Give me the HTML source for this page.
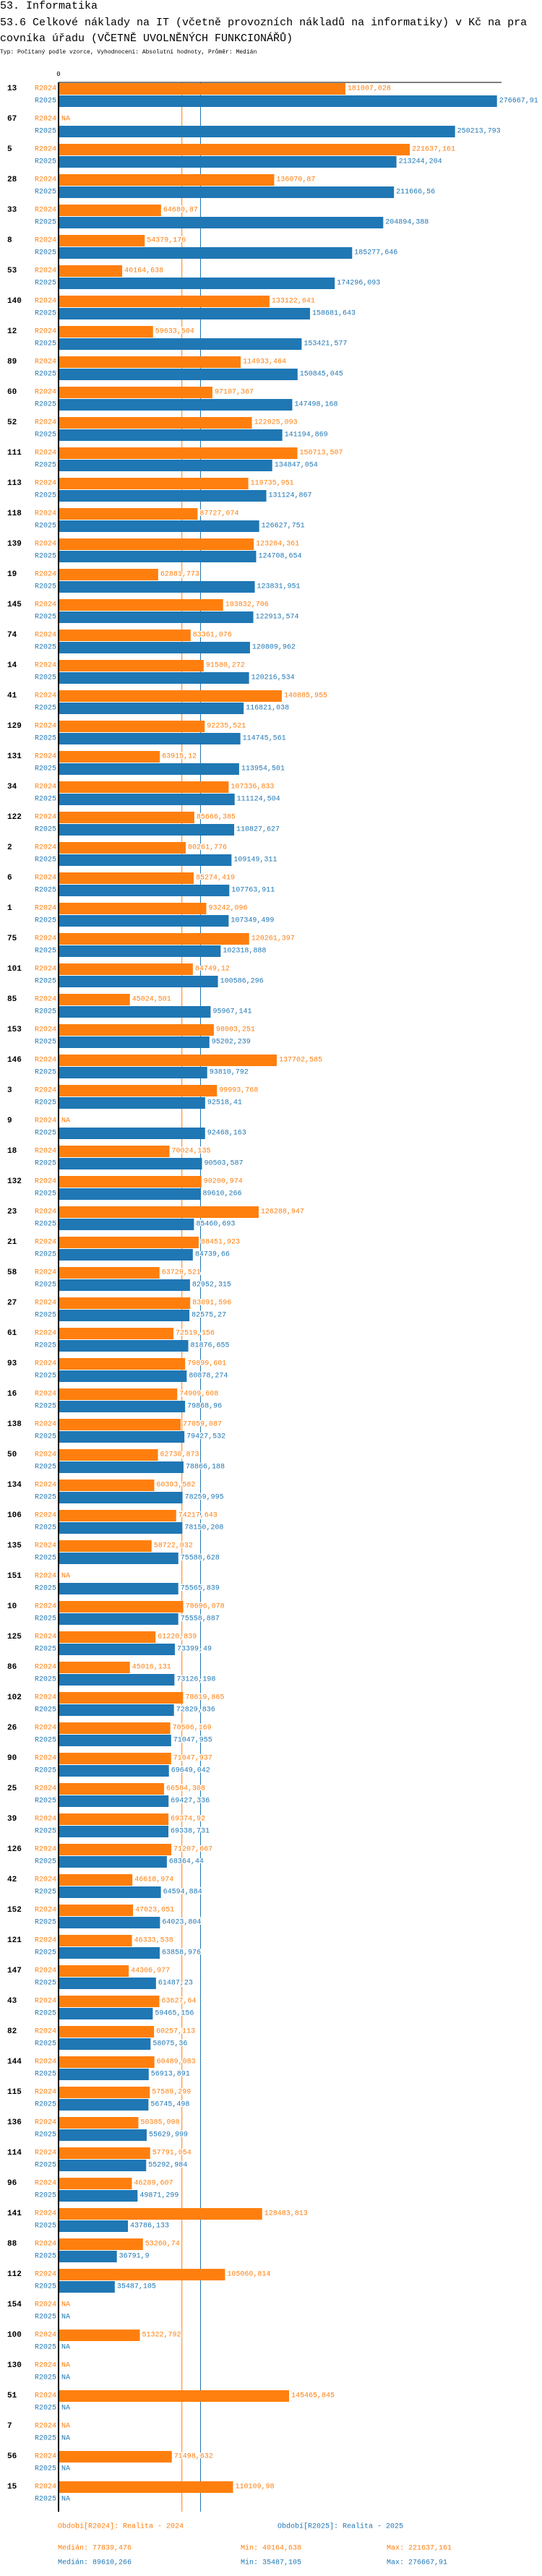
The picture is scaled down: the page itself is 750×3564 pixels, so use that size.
<!DOCTYPE html>
<html><head><meta charset="utf-8">
<style>
html,body{margin:0;padding:0;background:#fff;}
body{width:750px;height:3564px;overflow:hidden;font-family:"Liberation Mono",monospace;}
#t1,#t2,#t3{position:absolute;left:0;margin:0;white-space:nowrap;color:#000;}
#t1{top:0;font-size:15px;line-height:17px;}
#t2{top:21px;font-size:15px;line-height:22px;}
#t3{top:68px;font-size:8px;line-height:10px;}
svg{position:absolute;left:0;top:0;}
</style></head>
<body>
<div id="t1">53. Informatika</div>
<div id="t2">53.6 Celkové náklady na IT (včetně provozních nákladů na informatiky) v Kč na pra<br>covníka úřadu (VČETNĚ UVOLNĚNÝCH FUNKCIONÁŘŮ)</div>
<div id="t3">Typ: Počítaný podle vzorce, Vyhodnocení: Absolutní hodnoty, Průměr: Medián</div>
<svg id="chart" width="750" height="3564"></svg>
<script>
const groups = ["13","67","5","28","33","8","53","140","12","89","60","52","111","113","118","139","19","145","74","14","41","129","131","34","122","2","6","1","75","101","85","153","146","3","9","18","132","23","21","58","27","61","93","16","138","50","134","106","135","151","10","125","86","102","26","90","25","39","126","42","152","121","147","43","82","144","115","136","114","96","141","88","112","154","100","130","51","7","56","15"];
const v2024 = [181007.028,null,221637.161,136070.87,64680.87,54379.176,40164.638,133122.041,59633.504,114933.464,97107.367,122025.093,150713.507,119735.951,87727.074,123204.361,62881.773,103832.706,83361.076,91580.272,140885.955,92235.521,63915.12,107336.833,85666.385,80261.776,85274.419,93242.096,120261.397,84749.12,45024.501,98003.251,137702.585,99993.768,null,70024.135,90200.974,126288.947,88451.923,63729.521,83091.596,72519.156,79899.601,74909.608,77059.087,62730.873,60393.582,74217.643,58722.032,null,78696.078,61220.839,45016.131,78619.865,70506.169,71047.937,66584.308,69374.92,71207.667,46618.974,47023.051,46333.538,44306.977,63627.64,60257.113,60489.083,57589.299,50385.098,57791.054,46289.607,128483.813,53260.74,105060.814,null,51322.792,null,145465.845,null,71498.632,110109.98];
const v2025 = [276667.91,250213.793,213244.204,211666.56,204894.388,185277.646,174296.093,158681.643,153421.577,150845.045,147498.168,141194.869,134847.054,131124.867,126627.751,124708.654,123831.951,122913.574,120809.962,120216.534,116821.038,114745.561,113954.501,111124.504,110827.627,109149.311,107763.911,107349.499,102318.888,100586.296,95967.141,95202.239,93810.792,92518.41,92468.163,90503.587,89610.266,85460.693,84739.66,82952.315,82575.27,81876.655,80878.274,79868.96,79427.532,78866.188,78259.995,78150.208,75588.628,75565.839,75558.887,73399.49,73126.198,72829.836,71047.955,69649.042,69427.336,69338.731,68364.44,64594.884,64023.804,63858.976,61487.23,59465.156,58075.36,56913.891,56745.498,55629.999,55292.984,49871.299,43786.133,36791.9,35487.105,null,null,null,null,null,null,null];
const seriesNames = ["R2024","R2025"];
const medians = [77839.476, 89610.266];
const mins = ["40164,638","35487,105"];
const maxs = ["221637,161","276667,91"];
const medianLabels = ["77839,476","89610,266"];
const legendNames = ["Období[R2024]: Realita - 2024","Období[R2025]: Realita - 2025"];

const COLORS = ["#ff7f0e","#1f77b4"];
const X0 = 81, XMAX = 280000, XW = 614, Y0 = 115, STEP = 42;
const NS = "http://www.w3.org/2000/svg";
const svg = document.getElementById("chart");
const xs = v => X0 + v / XMAX * XW;
const ys = i => Y0 + i * STEP;
const fmt = v => String(v).replace(".", ",");
const yEnd = ys(groups.length - 1) + 42;

function mk(tag, attrs, parent) {
  const e = document.createElementNS(NS, tag);
  for (const k in attrs) e.setAttribute(k, attrs[k]);
  (parent || svg).appendChild(e);
  return e;
}
function txt(x, y, s, fill, size, anchor, weight) {
  const t = mk("text", {x: x, y: y, fill: fill, "font-size": size, "text-anchor": anchor || "start", "dominant-baseline": "central", "font-family": "Liberation Mono, monospace"});
  if (weight) t.setAttribute("font-weight", weight);
  t.textContent = s;
  return t;
}

// median lines
[0,1].forEach(s => {
  const l = mk("line", {x1: xs(medians[s]), x2: xs(medians[s]), y1: Y0 - 1, y2: yEnd, stroke: COLORS[s], "stroke-width": 1});
  
  
});

// bars and labels
groups.forEach((g, i) => {
  const y = ys(i);
  const gl = txt(10, y + 8, g, "#000", 11, "start", "bold");
  
  
  [v2024[i], v2025[i]].forEach((v, s) => {
    const by = y + s * 17;
    const sl = txt(78, by + 8, seriesNames[s], COLORS[s], 10, "end");
    
    
    if (v === null) {
      const na = txt(85, by + 8, "NA", COLORS[s], 10);
      
      
      return;
    }
    const r = mk("rect", {x: X0, y: by, width: xs(v) - X0, height: 16, fill: COLORS[s]});
    
    
    const vl = txt(xs(v) + 3, by + 8, fmt(v), COLORS[s], 10);
    vl.setAttribute("stroke", "#fff");
    vl.setAttribute("stroke-width", "3");
    vl.setAttribute("paint-order", "stroke");
    
    
  });
});

// axes
const ax = mk("line", {x1: X0, x2: X0, y1: Y0 - 1, y2: yEnd, stroke: "#000", "stroke-width": 2});


const tx = mk("line", {x1: X0, x2: X0 + XW - 1, y1: Y0 - 1, y2: Y0 - 1, stroke: "#000", "stroke-width": 1});


const zero = txt(X0, Y0 - 12, "0", "#000", 9, "middle");



// legend
const legX = [80, 384];
[0,1].forEach(s => {
  const l = txt(legX[s], 3496, legendNames[s], COLORS[s], 10);
  
  
  const sy = 3526 + s * 20;
  const a = txt(80, sy, "Medián: " + medianLabels[s], COLORS[s], 10);
  
  
  const b = txt(333, sy, "Min: " + mins[s], COLORS[s], 10);
  
  
  const c = txt(535, sy, "Max: " + maxs[s], COLORS[s], 10);
  
  
});
</script>
</body></html>
